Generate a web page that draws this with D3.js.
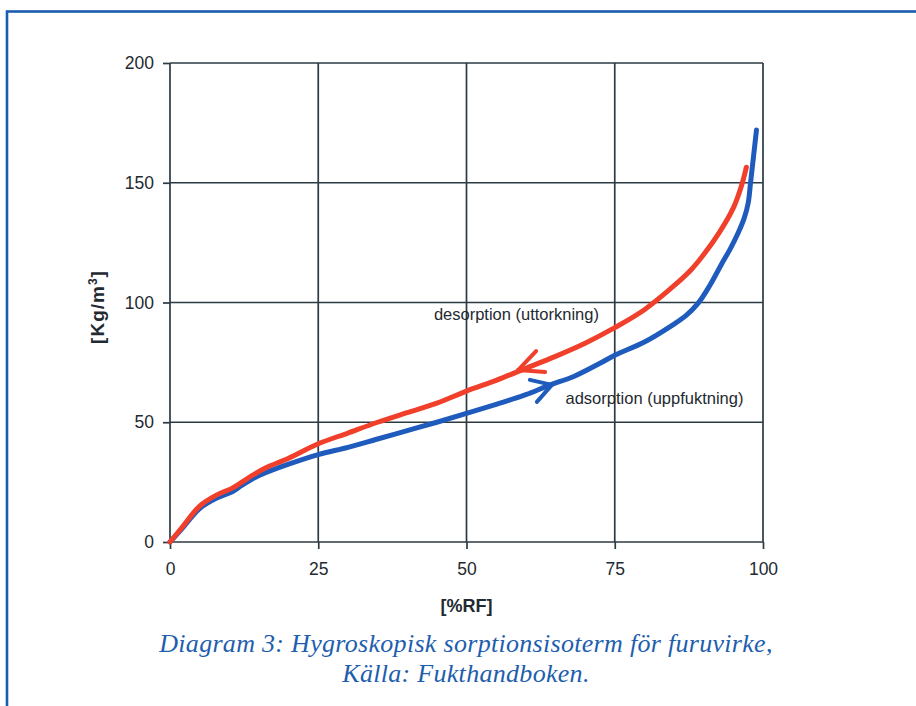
<!DOCTYPE html>
<html>
<head>
<meta charset="utf-8">
<script src="https://cdn.jsdelivr.net/npm/d3@7"></script>
<style>
  html, body { margin: 0; padding: 0; background: #fff; }
  svg { display: block; }
</style>
</head>
<body>
<svg id="chart" width="916" height="706"></svg>
<script>
// Relative humidity [%RF] against moisture content [Kg/m³]
const xTicks = [0, 25, 50, 75, 100];
const yTicks = [0, 50, 100, 150, 200];

const desorptionRF = [0, 2, 5, 8, 10.5, 12, 14, 16, 20, 25, 30, 35, 40, 45, 50, 55, 60, 65, 70, 75, 80, 85, 88, 90, 92.7, 95, 96.4, 97.2];
const desorptionKg = [0, 6, 15, 19.8, 22.5, 24.8, 28, 30.8, 35, 41, 45.5, 50, 54, 58, 63, 67.5, 72.5, 77.5, 83, 89.5, 97, 107, 114, 120, 129.5, 139.5, 149, 156.5];

const adsorptionRF = [0, 2, 5, 8, 10.5, 12, 14, 16, 20, 25, 30, 35, 40, 45, 50, 55, 60, 64, 68, 72.5, 75, 80, 85, 87, 89, 91, 93, 94.5, 95.8, 96.8, 97.5, 97.9, 98.4, 98.9];
const adsorptionKg = [0, 5.5, 14, 18.5, 21, 23.5, 26.5, 28.8, 32.5, 36.5, 39.5, 43, 46.5, 50, 53.7, 57.5, 61.5, 65.5, 69, 74.6, 78, 83.5, 91, 94.5, 99.5, 107, 116, 122.5, 129, 135, 141.5, 150, 161, 172];

// Direction arrows sit on each curve
const arrowRF = [58.7, 64.4];
const arrowKg = [71.8, 65.6];

const seriesLabels = ["desorption (uttorkning)", "adsorption (uppfuktning)"];
const labelRF = [44.5, 66.7];
const labelKg = [92.5, 57.8];

const xTitle = "[%RF]";
const captionLines = ["Diagram 3: Hygroskopisk sorptionsisoterm för furuvirke,", "Källa: Fukthandboken."];

const svg = d3.select("#chart");

// frame around the figure
svg.append("rect")
  .attr("x", 7).attr("y", 11.5)
  .attr("width", 940).attr("height", 740)
  .attr("fill", "none")
  .attr("stroke", "#1a5cb0")
  .attr("stroke-width", 2.6);

const x = d3.scaleLinear().domain([0, 100]).range([170, 763]);
const y = d3.scaleLinear().domain([0, 200]).range([542, 63]);

const gridColor = "#2c3a43";
const textColor = "#1f2a31";

// grid
const grid = svg.append("g");
grid.selectAll("line.v").data(xTicks).join("line")
  .attr("x1", d => x(d)).attr("x2", d => x(d))
  .attr("y1", y(200)).attr("y2", y(0))
  .attr("stroke", gridColor).attr("stroke-width", 1.7);
grid.selectAll("line.h").data(yTicks).join("line")
  .attr("x1", x(0)).attr("x2", x(100))
  .attr("y1", d => y(d)).attr("y2", d => y(d))
  .attr("stroke", gridColor).attr("stroke-width", 1.7);

// axes
const xAxis = svg.append("g")
  .attr("transform", `translate(0,${y(0)})`)
  .call(d3.axisBottom(x).tickValues(xTicks).tickSize(7).tickPadding(14));
const yAxis = svg.append("g")
  .attr("transform", `translate(${x(0)},0)`)
  .call(d3.axisLeft(y).tickValues(yTicks).tickSize(7).tickPadding(9));
[xAxis, yAxis].forEach(g => {
  g.select(".domain").remove();
  g.selectAll(".tick line").attr("stroke", gridColor).attr("stroke-width", 1.7);
  g.selectAll(".tick text")
    .attr("fill", textColor)
    .style("font-family", "'Liberation Sans', Arial, sans-serif")
    .style("font-size", "17.5px");
});

// axis titles
svg.append("text")
  .attr("x", x(50)).attr("y", 612)
  .attr("text-anchor", "middle")
  .attr("fill", textColor)
  .style("font-family", "'Liberation Sans', Arial, sans-serif")
  .style("font-size", "18px").style("font-weight", "bold")
  .text(xTitle);

const yTitle = svg.append("text")
  .attr("transform", `translate(104,307) rotate(-90)`)
  .attr("text-anchor", "middle")
  .attr("fill", textColor)
  .style("font-family", "'Liberation Sans', Arial, sans-serif")
  .style("font-size", "19px").style("font-weight", "bold")
  .style("letter-spacing", "1px");
yTitle.append("tspan").text("[Kg/m");
yTitle.append("tspan").attr("dy", -7).style("font-size", "12px").text("3");
yTitle.append("tspan").attr("dy", 7).text("]");

// curves
const line = d3.line()
  .x(d => x(d[0])).y(d => y(d[1]))
  .curve(d3.curveCatmullRom.alpha(0.5));

const adsorption = adsorptionRF.map((v, i) => [v, adsorptionKg[i]]);
const desorption = desorptionRF.map((v, i) => [v, desorptionKg[i]]);

const blue = "#1f5bbd";
const red = "#f0402c";

svg.append("path").datum(adsorption)
  .attr("d", line)
  .attr("fill", "none").attr("stroke", blue)
  .attr("stroke-width", 5).attr("stroke-linecap", "round").attr("stroke-linejoin", "round");
svg.append("path").datum(desorption)
  .attr("d", line)
  .attr("fill", "none").attr("stroke", red)
  .attr("stroke-width", 5).attr("stroke-linecap", "round").attr("stroke-linejoin", "round");

// arrow heads: the red one points back down the curve, the blue one up it
const arms = [
  [[18, -19], [27, 2]],
  [[-22, -5], [-15, 17]]
];
const arrowColors = [red, blue];
arrowRF.forEach((rf, i) => {
  const tx = x(rf), ty = y(arrowKg[i]);
  arms[i].forEach(a => {
    svg.append("line")
      .attr("x1", tx + a[0]).attr("y1", ty + a[1])
      .attr("x2", tx).attr("y2", ty)
      .attr("stroke", arrowColors[i]).attr("stroke-width", 4)
      .attr("stroke-linecap", "round");
  });
});

// series labels
seriesLabels.forEach((t, i) => {
  svg.append("text")
    .attr("x", x(labelRF[i])).attr("y", y(labelKg[i]))
    .attr("fill", textColor)
    .style("font-family", "'Liberation Sans', Arial, sans-serif")
    .style("font-size", "16.5px")
    .text(t);
});

// caption
captionLines.forEach((t, i) => {
  svg.append("text")
    .attr("x", 466).attr("y", 652 + i * 30)
    .attr("text-anchor", "middle")
    .attr("fill", "#1d5ead")
    .style("font-family", "'Liberation Serif', 'Times New Roman', serif")
    .style("font-style", "italic")
    .style("font-size", "26px")
    .style("letter-spacing", "0.3px")
    .text(t);
});
</script>
</body>
</html>
